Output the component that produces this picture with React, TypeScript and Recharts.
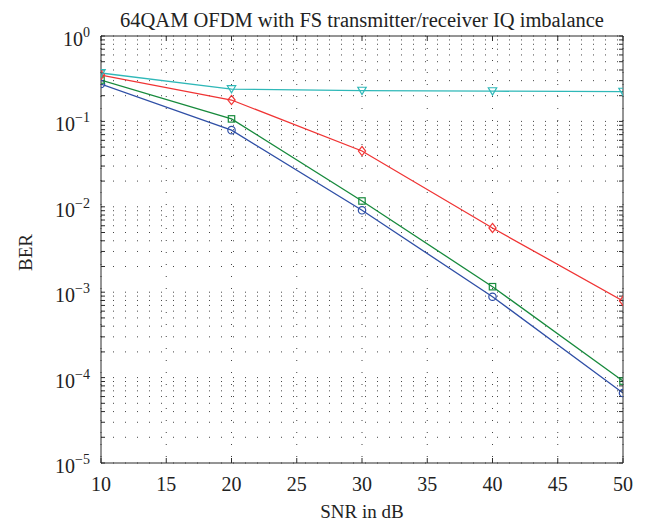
import React from 'react';
import { CartesianGrid, Line, LineChart, XAxis, YAxis } from 'recharts';

// SNR points (dB) and BER
const snr = [10, 20, 30, 40, 50];
const berCircle = [0.274, 0.079, 0.0091, 0.000885, 0.000066];
const berSquare = [0.305, 0.107, 0.0117, 0.00116, 0.000091];
const berDiamond = [0.349, 0.178, 0.045, 0.00565, 0.00079];
const berTriangle = [0.369, 0.239, 0.229, 0.226, 0.223];

const xTicks = [10, 15, 20, 25, 30, 35, 40, 45, 50];
const yMajor = [1e-5, 1e-4, 1e-3, 1e-2, 1e-1, 1];
const yMinorSteps = [1, 2, 3, 4, 5, 6, 7, 8, 9];

const yTicks = [
  ...yMajor.slice(0, -1).flatMap((d) => yMinorSteps.map((k) => k * d)),
  1,
];

const data = snr.map((s, i) => ({
  snr: s,
  circle: berCircle[i],
  square: berSquare[i],
  diamond: berDiamond[i],
  triangle: berTriangle[i],
}));

const FONT = '"Liberation Serif", "Times New Roman", serif';
const AXIS = '#2b2b2b';
const TXT = '#222';

const isMajor = (v: number) => yMajor.some((m) => Math.abs(m - v) / m < 1e-9);

const YTick = ({ x, y, payload }: any) => {
  const v = payload.value;
  if (!isMajor(v)) return <g />;
  const e = Math.round(Math.log10(v));
  return (
    <text x={x} y={y} textAnchor="end" fontFamily={FONT} fill={TXT}>
      <tspan fontSize={20} dy={10}>10</tspan>
      <tspan fontSize={14} dy={-9}>{e < 0 ? `\u2212${-e}` : `${e}`}</tspan>
    </text>
  );
};

const XTick = ({ x, y, payload }: any) => (
  <text x={x} y={y + 28} textAnchor="middle" fontFamily={FONT} fontSize={20} fill={TXT}>
    {payload.value}
  </text>
);

const NoTick = () => <g />;

const CircleDot = ({ cx, cy, stroke }: any) => (
  <circle cx={cx} cy={cy} r={3.7} fill="none" stroke={stroke} strokeWidth={1.2} />
);
const SquareDot = ({ cx, cy, stroke }: any) => (
  <rect x={cx - 3.2} y={cy - 3.2} width={6.4} height={6.4} fill="none" stroke={stroke} strokeWidth={1.2} />
);
const DiamondDot = ({ cx, cy, stroke }: any) => (
  <path
    d={`M${cx},${cy - 4.6}L${cx + 3.6},${cy}L${cx},${cy + 4.6}L${cx - 3.6},${cy}Z`}
    fill="none"
    stroke={stroke}
    strokeWidth={1.2}
  />
);
const TriangleDot = ({ cx, cy, stroke }: any) => (
  <path
    d={`M${cx - 4.2},${cy - 3.4}L${cx + 4.2},${cy - 3.4}L${cx},${cy + 3.8}Z`}
    fill="none"
    stroke={stroke}
    strokeWidth={1.2}
  />
);

export default function App() {
  return (
    <div style={{ position: 'absolute', left: 0, top: 0, width: 648, height: 529, background: '#fff' }}>
      <LineChart width={648} height={529} data={data} margin={{ top: 35, right: 24, bottom: 0, left: 0 }}>
        <CartesianGrid
          xAxisId="b"
          yAxisId="l"
          stroke="#444"
          strokeWidth={1}
          strokeDasharray="1 11"
        />
        <XAxis
          xAxisId="b"
          dataKey="snr"
          type="number"
          domain={[10, 50]}
          ticks={xTicks}
          interval={0}
          allowDataOverflow
          height={66}
          tickSize={-5}
          tickMargin={5}
          tick={<XTick />}
          stroke={AXIS}
          label={(props: any) => {
            const vb = props.viewBox;
            return (
              <text x={vb.x + vb.width / 2} y={518} textAnchor="middle" fontFamily={FONT} fontSize={19} fill={TXT}>
                SNR in dB
              </text>
            );
          }}
        />
        <XAxis
          xAxisId="t"
          orientation="top"
          dataKey="snr"
          type="number"
          domain={[10, 50]}
          ticks={xTicks}
          interval={0}
          allowDataOverflow
          height={1}
          tickSize={-5}
          tick={NoTick}
          stroke={AXIS}
          label={(props: any) => {
            const vb = props.viewBox;
            return (
              <text x={vb.x + vb.width / 2} y={27} textAnchor="middle" fontFamily={FONT} fontSize={20.5} fill={TXT}>
                64QAM OFDM with FS transmitter/receiver IQ imbalance
              </text>
            );
          }}
        />
        <YAxis
          yAxisId="l"
          scale="log"
          type="number"
          domain={[1e-5, 1]}
          ticks={yTicks}
          interval={0}
          allowDataOverflow
          width={101}
          tickSize={-4}
          tickMargin={15}
          tick={<YTick />}
          stroke={AXIS}
          label={(props: any) => {
            const vb = props.viewBox;
            const cy = vb.y + vb.height / 2 + 3;
            return (
              <text
                x={25}
                y={cy}
                transform={`rotate(-90, 25, ${cy})`}
                textAnchor="middle"
                dominantBaseline="central"
                fontFamily={FONT}
                fontSize={19}
                fill={TXT}
              >
                BER
              </text>
            );
          }}
        />
        <YAxis
          yAxisId="r"
          orientation="right"
          scale="log"
          type="number"
          domain={[1e-5, 1]}
          ticks={yTicks}
          interval={0}
          allowDataOverflow
          width={1}
          tickSize={-4}
          tick={NoTick}
          stroke={AXIS}
        />
        <Line
          xAxisId="b"
          yAxisId="l"
          dataKey="circle"
          stroke="#2f4fa6"
          strokeWidth={1.3}
          dot={<CircleDot />}
          isAnimationActive={false}
        />
        <Line
          xAxisId="b"
          yAxisId="l"
          dataKey="square"
          stroke="#178a3c"
          strokeWidth={1.3}
          dot={<SquareDot />}
          isAnimationActive={false}
        />
        <Line
          xAxisId="b"
          yAxisId="l"
          dataKey="diamond"
          stroke="#f03434"
          strokeWidth={1.3}
          dot={<DiamondDot />}
          isAnimationActive={false}
        />
        <Line
          xAxisId="b"
          yAxisId="l"
          dataKey="triangle"
          stroke="#2fb8b8"
          strokeWidth={1.3}
          dot={<TriangleDot />}
          isAnimationActive={false}
        />
      </LineChart>
    </div>
  );
}
